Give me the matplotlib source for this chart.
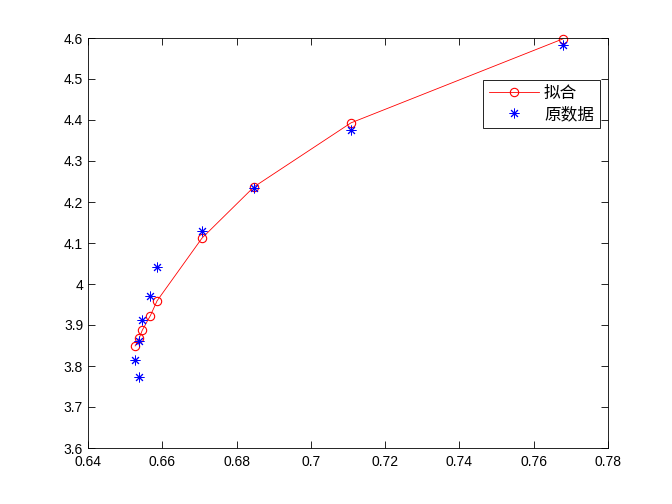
import matplotlib
matplotlib.use("Agg")
import matplotlib.pyplot as plt

plt.rcParams['font.family'] = ['Liberation Sans', 'Noto Sans CJK SC', 'DejaVu Sans']

fit_x = [0.6527, 0.6538, 0.6546, 0.6568, 0.6586, 0.6707, 0.6847, 0.7108, 0.7679]
fit_y = [3.849, 3.868, 3.887, 3.923, 3.959, 4.112, 4.237, 4.393, 4.598]
raw_x = [0.6527, 0.6538, 0.6538, 0.6546, 0.6567, 0.6586, 0.6707, 0.6847, 0.7108, 0.7679]
raw_y = [3.815, 3.774, 3.861, 3.912, 3.971, 4.041, 4.129, 4.234, 4.376, 4.583]
labels = ['拟合', '原数据']
xticks = [0.64, 0.66, 0.68, 0.70, 0.72, 0.74, 0.76, 0.78]
xticklabels = ['0.64', '0.66', '0.68', '0.7', '0.72', '0.74', '0.76', '0.78']
yticks = [3.6, 3.7, 3.8, 3.9, 4.0, 4.1, 4.2, 4.3, 4.4, 4.5, 4.6]
yticklabels = ['3.6', '3.7', '3.8', '3.9', '4', '4.1', '4.2', '4.3', '4.4', '4.5', '4.6']

fig = plt.figure(figsize=(6.72, 5.04), dpi=100)
ax = fig.add_axes([88/672, 56/504, 520/672, 410/504])
ax.plot(fit_x, fit_y, color='red', linewidth=0.6, marker='o', markersize=6,
        markerfacecolor='none', markeredgecolor='red', markeredgewidth=0.8,
        label=labels[0], clip_on=False)
ax.plot(raw_x, raw_y, linestyle='none', marker=(8, 2, 0), markersize=7, color='blue',
        markeredgewidth=0.7, label=labels[1], clip_on=False)
ax.set_xlim(0.64, 0.78)
ax.set_ylim(3.6, 4.6)
ax.set_xticks(xticks)
ax.set_xticklabels(xticklabels)
ax.set_yticks(yticks)
ax.set_yticklabels(yticklabels)
ax.tick_params(direction='in', top=True, right=True, labelsize=10, length=5, width=0.6)
ax.tick_params(axis='x', pad=5)
for s in ax.spines.values():
    s.set_linewidth(0.6)
leg = ax.legend(loc='upper left', bbox_to_anchor=(0.76, 0.898), borderaxespad=0,
                fancybox=False, edgecolor='black', framealpha=1, fontsize=12,
                borderpad=0.35, handlelength=3.0, labelspacing=0.35, handletextpad=0.3)
leg.get_frame().set_linewidth(0.6)
fig.savefig('out.png', dpi=100)
